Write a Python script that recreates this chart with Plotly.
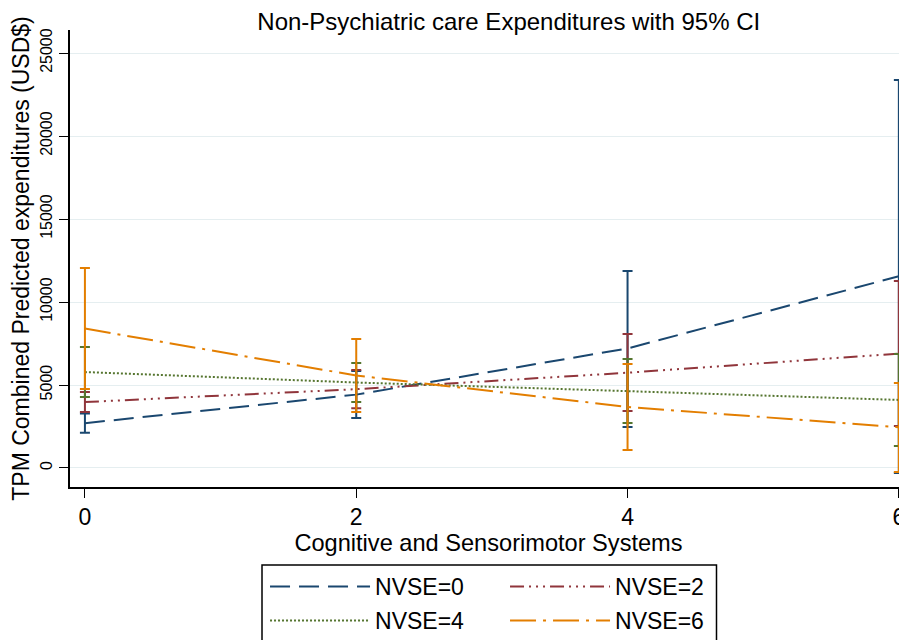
import plotly.graph_objects as go

x_vals = [0, 2, 4, 6]
series_names = ["NVSE=0", "NVSE=2", "NVSE=4", "NVSE=6"]
legend_rows = {"NVSE=0": "legend", "NVSE=2": "legend", "NVSE=4": "legend2", "NVSE=6": "legend2"}
means = {
    "NVSE=0": [2700, 4420, 7200, 11550],
    "NVSE=2": [3970, 4750, 5740, 6890],
    "NVSE=4": [5780, 5150, 4630, 4100],
    "NVSE=6": [8400, 5570, 3680, 2450],
}
lowers = {
    "NVSE=0": [2120, 3010, 2470, -300],
    "NVSE=2": [3370, 3600, 3430, 2530],
    "NVSE=4": [4280, 3970, 2710, 1330],
    "NVSE=6": [4760, 3370, 1080, -240],
}
uppers = {
    "NVSE=0": [3280, 5840, 11870, 23370],
    "NVSE=2": [4580, 5900, 8070, 11260],
    "NVSE=4": [7290, 6330, 6570, 6870],
    "NVSE=6": [12050, 7770, 6270, 5120],
}
colors = {"NVSE=0": "#1a476f", "NVSE=2": "#90353b", "NVSE=4": "#55752f", "NVSE=6": "#e37e00"}
dashes = {
    "NVSE=0": "20px,9px",
    "NVSE=2": "14px,5px,2px,5px,2px,5px,2px,5px",
    "NVSE=4": "2px,2px",
    "NVSE=6": "26px,7px,3px,7px",
}
y_ticks = [0, 5000, 10000, 15000, 20000, 25000]
x_ticks = [0, 2, 4, 6]

fig = go.Figure()
for name in series_names:
    m = means[name]
    lo = lowers[name]
    up = uppers[name]
    fig.add_trace(go.Scatter(
        x=x_vals, y=m, mode="lines", name=name, legend=legend_rows[name],
        line=dict(color=colors[name], width=2, dash=dashes[name]),
        error_y=dict(type="data", symmetric=False,
                     array=[u - v for u, v in zip(up, m)],
                     arrayminus=[v - l for v, l in zip(m, lo)],
                     color=colors[name], thickness=2, width=5),
    ))

font = "Liberation Sans, Arial, sans-serif"
legend_common = dict(orientation="h", xanchor="left", yanchor="top",
                     borderwidth=0, bgcolor="rgba(0,0,0,0)",
                     entrywidth=125, itemwidth=100, font=dict(size=23))
fig.update_layout(
    width=899, height=632,
    margin=dict(l=62, r=0, t=22, b=153, autoexpand=False),
    paper_bgcolor="white", plot_bgcolor="white",
    font=dict(family=font, color="black", size=18),
    title=dict(text="Non-Psychiatric care Expenditures with 95% CI",
               x=0.557, xanchor="center", y=0.978, yanchor="middle",
               font=dict(size=24, color="black")),
    xaxis=dict(range=[-0.11, 6.06], tickvals=x_ticks, ticktext=[str(v) for v in x_ticks],
               showline=True, linecolor="black", linewidth=1.5,
               ticks="outside", ticklen=9, tickcolor="black", showgrid=False, zeroline=False,
               title=dict(text="Cognitive and Sensorimotor Systems", standoff=1, font=dict(size=23.6)),
               tickfont=dict(size=23)),
    yaxis=dict(range=[-1145, 26386], tickvals=y_ticks, ticktext=[str(v) for v in y_ticks],
               showline=True, linecolor="black", linewidth=1.5,
               ticks="outside", ticklen=9, tickcolor="black",
               showgrid=True, gridcolor="#e5eef0", gridwidth=1, zeroline=False,
               tickangle=-90, tickfont=dict(size=16), ticklabelstandoff=1,
               title=dict(text="TPM Combined Predicted expenditures (USD$)", standoff=4, font=dict(size=23))),
    legend=dict(x=0.233, y=-0.1707, **legend_common),
    legend2=dict(x=0.233, y=-0.2451, **legend_common),
    showlegend=True,
    shapes=[dict(type="rect", xref="paper", yref="paper", x0=0.2294, x1=0.7724, y0=-0.1707, y1=-0.36,
                 line=dict(color="black", width=1.5), fillcolor="rgba(0,0,0,0)", layer="above")],
)

fig.write_html("out.html")
